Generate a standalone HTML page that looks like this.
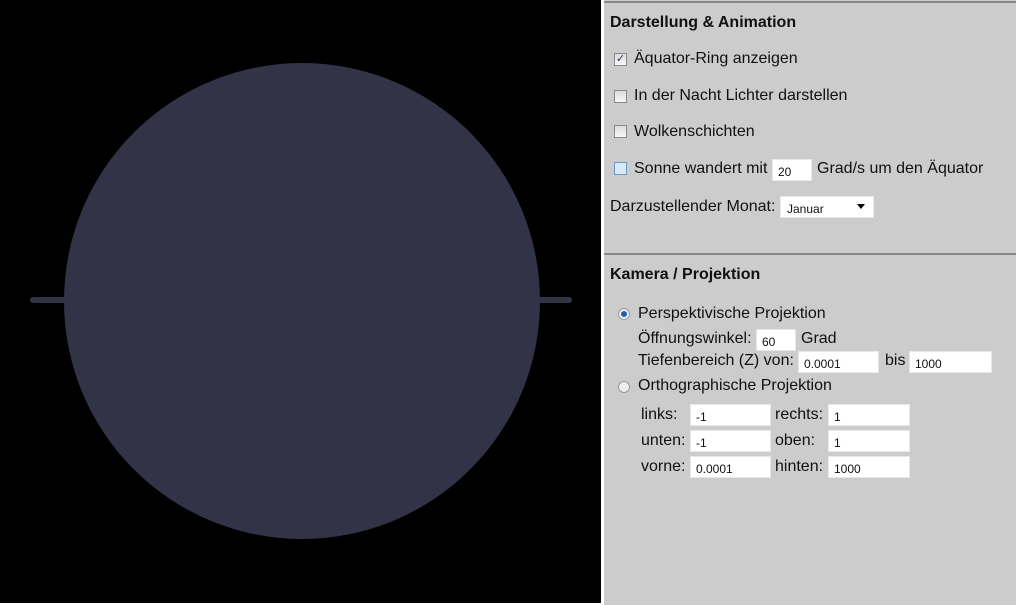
<!DOCTYPE html>
<html><head><meta charset="utf-8"><style>
*{margin:0;padding:0;box-sizing:border-box}
body{width:1016px;height:605px;background:#fff;position:relative;overflow:hidden;font-family:"Liberation Sans",Arial,sans-serif;font-size:16px;color:#111}
.a{position:absolute;white-space:nowrap}
.cv{left:0;top:0;width:601px;height:603px;background:#000}
.pn{left:604px;top:0;width:412px;height:605px;background:#cccccc}
.ln{height:2px;background:#888;left:604px;width:412px}
h{font-weight:bold}
.cb{width:13px;height:13px;border:1px solid #8a8a8a;background:linear-gradient(#dcdcdc,#f8f8f8)}
.in{background:#fff;height:22px;font-size:12px;padding:5px 0 0 5px;border:1px solid #e8e8e8}
.rd{width:12px;height:12px;border-radius:50%;border:1px solid #999;background:#eee}
</style></head><body>
<div class="a cv"></div>
<svg class="a" style="left:0;top:0" width="601" height="603">
<line x1="33" y1="300" x2="569" y2="300" stroke="#323347" stroke-width="6" stroke-linecap="round"/>
<circle cx="302" cy="301" r="238" fill="#323347"/>
</svg>
<div class="a pn"></div>
<div class="a ln" style="top:1px"></div>
<div class="a ln" style="top:253px"></div>

<div class="a" style="left:610px;top:14px;font-weight:bold">Darstellung &amp; Animation</div>
<div class="a cb" style="left:614px;top:53px;font-size:11px;line-height:11px;color:#335;text-align:center">✓</div>
<div class="a" style="left:634px;top:50px">Äquator-Ring anzeigen</div>
<div class="a cb" style="left:614px;top:90px"></div>
<div class="a" style="left:634px;top:87px">In der Nacht Lichter darstellen</div>
<div class="a cb" style="left:614px;top:125px"></div>
<div class="a" style="left:634px;top:123px">Wolkenschichten</div>
<div class="a cb" style="left:614px;top:162px;border-color:#6a9ac8;background:#d8eaf8"></div>
<div class="a" style="left:634px;top:160px">Sonne wandert mit</div>
<div class="a in" style="left:772px;top:159px;width:40px">20</div>
<div class="a" style="left:817px;top:160px">Grad/s um den Äquator</div>
<div class="a" style="left:610px;top:198px">Darzustellender Monat:</div>
<div class="a in" style="left:780px;top:196px;width:94px;padding-left:6px">Januar<span style="position:absolute;right:8px;top:7px;border:4px solid transparent;border-top:5px solid #000"></span></div>

<div class="a" style="left:610px;top:266px;font-weight:bold">Kamera / Projektion</div>
<div class="a rd" style="left:618px;top:308px"><div style="width:6px;height:6px;border-radius:50%;background:#1c5fb0;margin:2px"></div></div>
<div class="a" style="left:638px;top:305px">Perspektivische Projektion</div>
<div class="a" style="left:638px;top:330px">Öffnungswinkel:</div>
<div class="a in" style="left:756px;top:329px;width:40px">60</div>
<div class="a" style="left:801px;top:330px">Grad</div>
<div class="a" style="left:638px;top:352px">Tiefenbereich (Z) von:</div>
<div class="a in" style="left:798px;top:351px;width:81px">0.0001</div>
<div class="a" style="left:885px;top:352px">bis</div>
<div class="a in" style="left:909px;top:351px;width:83px">1000</div>
<div class="a rd" style="left:618px;top:381px"></div>
<div class="a" style="left:638px;top:377px">Orthographische Projektion</div>

<div class="a" style="left:641px;top:406px">links:</div>
<div class="a in" style="left:690px;top:404px;width:81px">-1</div>
<div class="a" style="left:775px;top:406px">rechts:</div>
<div class="a in" style="left:828px;top:404px;width:82px">1</div>
<div class="a" style="left:641px;top:432px">unten:</div>
<div class="a in" style="left:690px;top:430px;width:81px">-1</div>
<div class="a" style="left:775px;top:432px">oben:</div>
<div class="a in" style="left:828px;top:430px;width:82px">1</div>
<div class="a" style="left:641px;top:458px">vorne:</div>
<div class="a in" style="left:690px;top:456px;width:81px">0.0001</div>
<div class="a" style="left:775px;top:458px">hinten:</div>
<div class="a in" style="left:828px;top:456px;width:82px">1000</div>
</body></html>
